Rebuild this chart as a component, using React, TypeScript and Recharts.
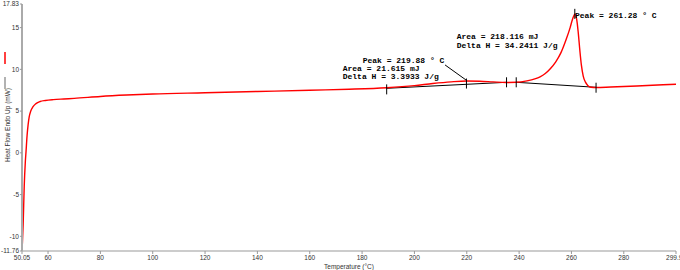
import React from 'react';
import { LineChart, Line, XAxis, YAxis, ReferenceLine, ReferenceDot } from 'recharts';

// DSC trace
const temps = [
  50.2, 50.5, 50.9, 51.3, 51.6, 52.0, 52.4, 52.8, 53.4, 54.2, 55.4, 57.0, 59.0, 62.0, 66.0, 70.0,
  80.0, 90.0, 100.0, 120.0, 140.0, 160.0, 175.0, 189.4, 200.0, 207.0, 214.0, 219.9, 225.0, 230.0,
  235.0, 239.0, 243.0, 246.0, 248.0, 250.0, 252.0, 254.0, 256.0, 258.0, 259.5, 260.5, 261.28,
  262.0, 262.6, 263.2, 263.8, 264.5, 265.3, 266.3, 267.5, 269.4, 275.0, 285.0, 295.0, 299.95,
];
const heatFlow = [
  -10.9, -8.5, -4.0, -1.2, 0.2, 2.1, 3.4, 4.3, 5.0, 5.5, 5.9, 6.15, 6.27, 6.37, 6.45, 6.52,
  6.75, 6.92, 7.05, 7.2, 7.35, 7.5, 7.62, 7.8, 8.05, 8.3, 8.5, 8.6, 8.58, 8.5,
  8.43, 8.45, 8.62, 8.85, 9.1, 9.5, 10.1, 10.9, 12.0, 13.6, 15.0, 16.1, 16.6,
  16.0, 14.4, 12.3, 10.5, 9.2, 8.5, 8.05, 7.85, 7.82, 7.88, 8.0, 8.15, 8.22,
];

// integration baselines
const base1Temps = [189.4, 235.2];
const base1Values = [7.73, 8.45];
const base2Temps = [238.9, 269.4];
const base2Values = [8.45, 7.85];

// small vertical markers (limits and peaks)
const markerTemps = [189.4, 219.88, 235.2, 238.9, 261.28, 269.4];
const markerValues = [7.6, 8.3, 8.45, 8.45, 16.65, 7.8];

const xTicks = [50.05, 60, 80, 100, 120, 140, 160, 180, 200, 220, 240, 260, 280, 299.95];
const yTicks = [-11.76, -10, -5, 0, 5, 10, 15, 17.83];

const curve = temps.map((t, i) => ({ t, v: heatFlow[i] }));
const base1 = base1Temps.map((t, i) => ({ t, v: base1Values[i] }));
const base2 = base2Temps.map((t, i) => ({ t, v: base2Values[i] }));

const notes = [
  { t: 261.36, v: 16.43, text: 'Peak = 261.28 ° C' },
  { t: 216.16, v: 13.91, text: 'Area = 218.116 mJ' },
  { t: 216.16, v: 12.88, text: 'Delta H = 34.2411 J/g' },
  { t: 180.24, v: 11.12, text: 'Peak = 219.88 ° C' },
  { t: 172.6, v: 10.13, text: 'Area = 21.615 mJ' },
  { t: 172.6, v: 9.12, text: 'Delta H = 3.3933 J/g' },
];

const tickStyle = { fontSize: 6.5, fill: '#333', fontFamily: 'Liberation Sans, Arial, sans-serif' };

const NoteText = (text: string) => (p: any) => (
  <text
    x={p.cx}
    y={p.cy}
    dominantBaseline="central"
    fontFamily="Liberation Mono, DejaVu Sans Mono, monospace"
    fontWeight="bold"
    fontSize={8}
    fill="#000"
  >
    {text}
  </text>
);

// y title with the two little legend strokes above it
const YTitle = () => (
  <g>
    <line x1={5} y1={52} x2={5} y2={64} stroke="#ff0000" strokeWidth={1.5} />
    <line x1={5} y1={77} x2={5} y2={89} stroke="#999" strokeWidth={1.5} />
    <text
      transform="translate(7.5,125) rotate(-90)"
      textAnchor="middle"
      dominantBaseline="central"
      {...tickStyle}
    >
      Heat Flow Endo Up (mW)
    </text>
  </g>
);

const App: React.FC = () => {
  return (
    <div style={{ position: 'absolute', left: 0, top: 0, width: 680, height: 270, background: '#fff' }}>
      <LineChart width={680} height={270} data={curve} margin={{ top: 4, right: 4, left: 0, bottom: 0 }}>
        <XAxis
          dataKey="t"
          type="number"
          domain={[50.05, 299.95]}
          ticks={xTicks}
          interval={0}
          allowDataOverflow
          height={19}
          tickSize={3}
          tickMargin={1}
          tick={tickStyle}
          axisLine={{ stroke: '#999' }}
          tickLine={{ stroke: '#999' }}
          label={{ value: 'Temperature (°C)', position: 'insideBottom', offset: 1, ...tickStyle }}
        />
        <YAxis
          type="number"
          domain={[-11.76, 17.83]}
          ticks={yTicks}
          interval={0}
          allowDataOverflow
          width={22}
          tickSize={2}
          tickMargin={1}
          tick={tickStyle}
          axisLine={{ stroke: '#aaa', strokeWidth: 2 }}
          tickLine={{ stroke: '#999' }}
          label={{ content: YTitle }}
        />
        <Line data={base1} dataKey="v" type="linear" stroke="#000" strokeWidth={1} dot={false} isAnimationActive={false} />
        <Line data={base2} dataKey="v" type="linear" stroke="#000" strokeWidth={1} dot={false} isAnimationActive={false} />
        <Line dataKey="v" type="monotone" stroke="#ff0000" strokeWidth={1.4} dot={false} isAnimationActive={false} />
        {markerTemps.map((t, i) => (
          <ReferenceLine
            key={`m-${i}`}
            segment={[{ x: t, y: markerValues[i] - 0.6 }, { x: t, y: markerValues[i] + 0.6 }]}
            stroke="#000"
            strokeWidth={1}
          />
        ))}
        <ReferenceLine segment={[{ x: 211.7, y: 10.53 }, { x: 219.7, y: 8.73 }]} stroke="#000" strokeWidth={1} />
        {notes.map((n, i) => (
          <ReferenceDot key={`n-${i}`} x={n.t} y={n.v} r={0} shape={NoteText(n.text)} />
        ))}
      </LineChart>
    </div>
  );
};

export default App;
